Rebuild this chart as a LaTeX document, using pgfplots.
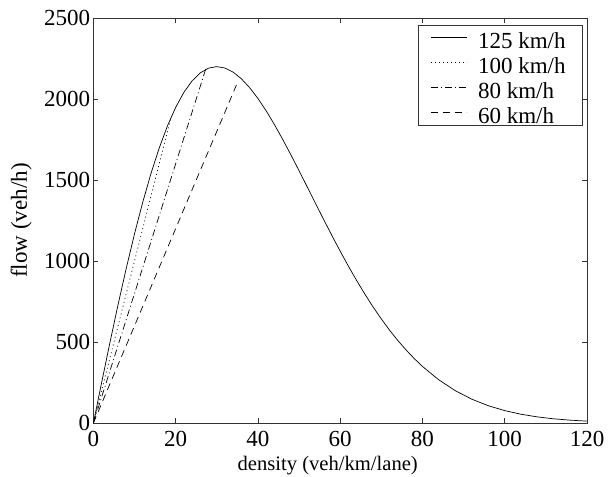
\documentclass[border=0pt]{standalone}
\usepackage{fontspec}
\setmainfont{Liberation Serif}
\usepackage{pgfplots}
\pgfplotsset{compat=1.18}
\newcommand{\fs}{\fontsize{23bp}{27bp}\selectfont}
\newcommand{\fsx}{\fontsize{20.6bp}{25bp}\selectfont}
\begin{document}
\begin{tikzpicture}
\begin{axis}[
  scale only axis, width=493.6bp, height=405bp,
  xmin=0, xmax=120, ymin=0, ymax=2500,
  xtick={0,20,...,120}, ytick={0,500,...,2500},
  tick align=inside, tick pos=both, major tick length=5bp,
  axis line style={black!80, line width=0.8bp},
  every tick/.style={black!80, line width=0.8bp},
  /pgf/number format/assume math mode=true,
  /pgf/number format/1000 sep={},
  scaled ticks=false,
  ticklabel style={font=\fs, text=black},
  xticklabel style={inner xsep=0pt, inner ysep=8bp},
  yticklabel style={inner xsep=3bp, inner ysep=0pt},
  xlabel={density (veh/km/lane)},
  ylabel={flow (veh/h)},
  xlabel style={font=\fsx, at={(axis description cs:0.4747,-0.0827)}, anchor=north, inner sep=0pt},
  ylabel style={font=\fs, at={(axis description cs:-0.1244,0.5)}, anchor=south, inner sep=0pt},
  legend cell align=left,
  legend style={at={(axis description cs:1,1)}, anchor=north east, xshift=-4bp, yshift=-7bp,
    draw=black!80, line width=0.6bp, font=\fs, inner xsep=11.7bp, inner ysep=0bp,
    row sep=0pt, column sep=11bp,
    nodes={inner sep=0pt, text height=23bp, text depth=2bp}},
  legend image code/.code={\draw[#1, line width=0.7bp] (0bp,0bp) -- (36bp,0bp);},
]
\addplot[black, line width=0.7bp] coordinates {
(0,0) (2,249.2) (4,493.9) (6,730.7) (8,956.3) (10,1167.9) (12,1363.1) (14,1540.1)
(16,1697.3) (18,1833.6) (20,1948.2) (22,2041.0) (24,2111.9) (26,2161.5) (28,2190.5)
(30,2199.9) (32,2191.0) (34,2165.2) (36,2124.2) (38,2069.6) (40,2003.2) (42,1926.9)
(44,1842.5) (46,1751.6) (48,1655.9) (50,1557.0) (52,1456.4) (54,1355.3) (56,1255.0)
(58,1156.4) (60,1060.4) (62,967.9) (64,879.4) (66,795.4) (68,716.3) (70,642.2)
(72,573.2) (74,509.6) (76,451.2) (78,397.7) (80,349.1) (84,265.8) (88,199.1)
(92,146.9) (96,106.7) (100,76.4) (104,53.9) (108,37.4) (112,25.6) (116,17.3) (120,11.5)
};
\addlegendentry{\makebox[93bp][l]{125 km/h}}
\addplot[black, line width=0.7bp, dash pattern=on 1bp off 3bp] coordinates {(0,0) (18.85,1885)};
\addlegendentry{\makebox[93bp][l]{100 km/h}}
\addplot[black, line width=0.7bp, dash pattern=on 7bp off 3bp on 1bp off 3bp] coordinates {(0,0) (27.3,2184)};
\addlegendentry{\makebox[93bp][l]{80 km/h}}
\addplot[black, line width=0.7bp, dash pattern=on 7bp off 5bp] coordinates {(0,0) (35,2100)};
\addlegendentry{\makebox[93bp][l]{60 km/h}}
\end{axis}
\pgfresetboundingbox
\path[use as bounding box] ([shift={(-93.4bp,-54bp)}]current axis.south west) rectangle ([shift={(21bp,18bp)}]current axis.north east);
\end{tikzpicture}
\end{document}
